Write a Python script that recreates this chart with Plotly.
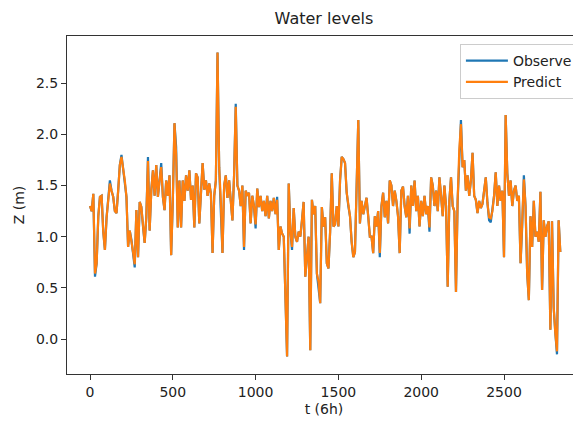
import plotly.graph_objects as go

# time index (steps of 6h), sampled every 10 steps
t = list(range(0, 2850, 10))

observe = [
    1.30, 1.25, 1.42, 0.61, 0.74, 1.20, 1.39, 1.40, 1.05, 0.87,
    1.19, 1.40, 1.55, 1.45, 1.39, 1.25, 1.23, 1.45, 1.70, 1.80,
    1.68, 1.55, 1.39, 0.90, 1.06, 0.97, 0.85, 0.70, 1.26, 0.80,
    1.34, 1.29, 1.10, 0.94, 1.19, 1.78, 1.06, 1.45, 1.65, 1.40,
    1.70, 1.39, 1.55, 1.72, 1.39, 1.26, 1.55, 1.40, 1.60, 0.82,
    1.35, 2.11, 1.88, 1.09, 1.55, 1.09, 1.55, 1.35, 1.60, 1.45,
    1.65, 1.36, 1.50, 1.09, 1.62, 1.58, 1.13, 1.45, 1.72, 1.46,
    1.55, 1.40, 1.52, 1.42, 0.84, 1.40, 1.55, 2.80, 1.68, 1.24,
    0.84, 1.50, 1.60, 1.38, 1.55, 1.35, 1.16, 1.60, 2.30, 1.50,
    1.45, 1.30, 1.50, 0.87, 1.45, 1.40, 1.43, 1.13, 1.40, 1.30,
    1.08, 1.47, 1.29, 1.40, 1.25, 1.35, 1.20, 1.40, 1.18, 1.35,
    1.25, 1.38, 1.22, 1.39, 0.87, 1.10, 1.03, 1.00, 0.35, -0.17,
    1.52, 1.06, 0.87, 1.28, 1.00, 0.95, 1.05, 1.00, 1.16, 1.34,
    0.61, 0.80, 1.00, -0.11, 1.36, 1.22, 1.30, 0.64, 0.51, 0.35,
    1.29, 1.10, 1.19, 0.74, 0.69, 1.05, 1.62, 1.10, 1.12, 1.30,
    1.10, 1.55, 1.78, 1.76, 1.72, 1.43, 1.30, 1.20, 0.95, 0.80,
    0.85, 1.45, 2.14, 1.13, 1.35, 1.22, 1.30, 1.38, 1.20, 1.00,
    1.00, 0.84, 1.20, 1.10, 1.25, 0.80, 1.30, 1.43, 1.19, 1.35,
    1.13, 1.55, 1.50, 1.30, 1.45, 1.35, 1.20, 0.84, 1.45, 1.49,
    1.30, 1.19, 1.40, 1.03, 1.50, 1.30, 1.55, 1.25, 1.40, 1.10,
    1.35, 1.20, 1.40, 1.22, 1.30, 1.05, 1.58, 1.50, 1.30, 1.45,
    1.25, 1.58, 1.40, 1.20, 1.50, 1.30, 0.51, 1.35, 1.58, 1.30,
    1.25, 0.46, 1.35, 1.85, 2.14, 1.68, 1.75, 1.45, 1.60, 1.40,
    1.55, 1.82, 1.40, 1.36, 1.23, 1.35, 1.28, 1.32, 1.45, 1.58,
    1.33, 1.16, 1.14, 1.25, 1.40, 1.63, 1.30, 1.50, 1.35, 1.45,
    0.80, 2.19, 1.62, 1.40, 1.55, 1.30, 1.45, 1.50, 1.35, 1.40,
    0.74, 1.10, 1.60, 1.30, 0.64, 0.38, 1.20, 0.90, 1.35, 1.00,
    1.05, 0.95, 1.44, 0.48, 1.16, 1.00, 1.10, 1.15, 0.09, 1.15,
    0.31, 0.06, -0.15, 1.16, 0.85,
]

predict = [
    1.30, 1.25, 1.42, 0.64, 0.74, 1.20, 1.39, 1.40, 1.05, 0.87,
    1.19, 1.40, 1.52, 1.45, 1.39, 1.25, 1.23, 1.45, 1.70, 1.78,
    1.68, 1.55, 1.39, 0.90, 1.06, 0.97, 0.85, 0.73, 1.26, 0.80,
    1.34, 1.29, 1.10, 0.94, 1.19, 1.74, 1.06, 1.45, 1.65, 1.40,
    1.70, 1.39, 1.55, 1.68, 1.39, 1.26, 1.55, 1.40, 1.60, 0.82,
    1.35, 2.11, 1.80, 1.09, 1.55, 1.09, 1.55, 1.35, 1.60, 1.45,
    1.65, 1.36, 1.50, 1.09, 1.62, 1.58, 1.13, 1.45, 1.72, 1.46,
    1.55, 1.40, 1.52, 1.42, 0.84, 1.40, 1.55, 2.80, 1.68, 1.35,
    0.84, 1.50, 1.60, 1.38, 1.55, 1.35, 1.16, 1.60, 2.27, 1.50,
    1.45, 1.30, 1.50, 0.90, 1.45, 1.40, 1.43, 1.13, 1.40, 1.30,
    1.12, 1.47, 1.29, 1.40, 1.25, 1.35, 1.20, 1.40, 1.18, 1.35,
    1.25, 1.38, 1.22, 1.36, 0.87, 1.10, 1.03, 1.00, 0.35, -0.17,
    1.52, 1.06, 0.90, 1.28, 1.00, 0.95, 1.05, 1.00, 1.16, 1.34,
    0.61, 0.80, 1.00, -0.11, 1.36, 1.22, 1.30, 0.64, 0.56, 0.35,
    1.29, 1.10, 1.19, 0.74, 0.69, 1.05, 1.62, 1.10, 1.12, 1.30,
    1.10, 1.55, 1.78, 1.76, 1.72, 1.43, 1.30, 1.20, 0.95, 0.80,
    0.85, 1.45, 2.14, 1.13, 1.35, 1.22, 1.30, 1.38, 1.20, 1.00,
    1.00, 0.84, 1.20, 1.10, 1.25, 0.84, 1.30, 1.43, 1.19, 1.35,
    1.13, 1.55, 1.50, 1.30, 1.45, 1.35, 1.20, 0.84, 1.45, 1.49,
    1.30, 1.19, 1.40, 1.08, 1.50, 1.30, 1.55, 1.25, 1.40, 1.10,
    1.35, 1.20, 1.40, 1.22, 1.30, 1.09, 1.58, 1.50, 1.30, 1.45,
    1.25, 1.58, 1.40, 1.20, 1.50, 1.30, 0.51, 1.35, 1.58, 1.30,
    1.25, 0.46, 1.35, 1.85, 2.10, 1.68, 1.75, 1.45, 1.60, 1.40,
    1.55, 1.82, 1.40, 1.36, 1.23, 1.35, 1.28, 1.32, 1.45, 1.58,
    1.33, 1.19, 1.18, 1.25, 1.40, 1.63, 1.30, 1.50, 1.35, 1.45,
    0.80, 2.19, 1.62, 1.40, 1.55, 1.30, 1.45, 1.50, 1.35, 1.40,
    0.74, 1.10, 1.56, 1.30, 0.64, 0.38, 1.20, 0.90, 1.35, 1.00,
    1.05, 0.95, 1.44, 0.48, 1.16, 1.00, 1.10, 1.15, 0.09, 1.15,
    0.31, 0.06, -0.12, 1.16, 0.85,
]

x_ticks = [0, 500, 1000, 1500, 2000, 2500]
y_ticks = [0.0, 0.5, 1.0, 1.5, 2.0, 2.5]

FONT = "DejaVu Sans"

fig = go.Figure()
fig.add_trace(go.Scatter(x=t, y=observe, mode="lines", name="Observe",
                         line=dict(color="#1f77b4", width=2.2)))
fig.add_trace(go.Scatter(x=t, y=predict, mode="lines", name="Predict",
                         line=dict(color="#ff7f0e", width=2.2)))

# the page body adds an 8px offset, so the figure is 8px smaller
fig.update_layout(
    width=573, height=414,
    margin=dict(l=59, r=0, t=28, b=48),
    paper_bgcolor="white", plot_bgcolor="white",
    font=dict(family=FONT, size=14, color="#222"),
    title=dict(text="Water levels", x=0.5, xanchor="center",
               xref="paper", y=0.975, yanchor="middle",
               font=dict(size=16, color="#222")),
    showlegend=True,
    legend=dict(x=0.994, y=0.976, xanchor="right", yanchor="top",
                bgcolor="white", bordercolor="#cccccc", borderwidth=1,
                itemwidth=42,
                font=dict(size=14, color="#222"), tracegroupgap=0),
)
fig.update_xaxes(
    range=[-139, 2965], tickvals=x_ticks, ticktext=[str(v) for v in x_ticks],
    showgrid=False, zeroline=False, showline=True, mirror=True,
    linecolor="#333", linewidth=1, ticks="outside", ticklen=5,
    tickwidth=1, tickcolor="#333",
    title=dict(text="t (6h)", standoff=5, font=dict(size=14)),
)
fig.update_yaxes(
    range=[-0.342, 2.962], tickvals=y_ticks, ticktext=[f"{v:.1f}" for v in y_ticks],
    showgrid=False, zeroline=False, showline=True, mirror=False,
    linecolor="#333", linewidth=1, ticks="outside", ticklen=5,
    tickwidth=1, tickcolor="#333",
    title=dict(text="Z (m)", standoff=8, font=dict(size=14)),
)

fig.write_html("out.html")
